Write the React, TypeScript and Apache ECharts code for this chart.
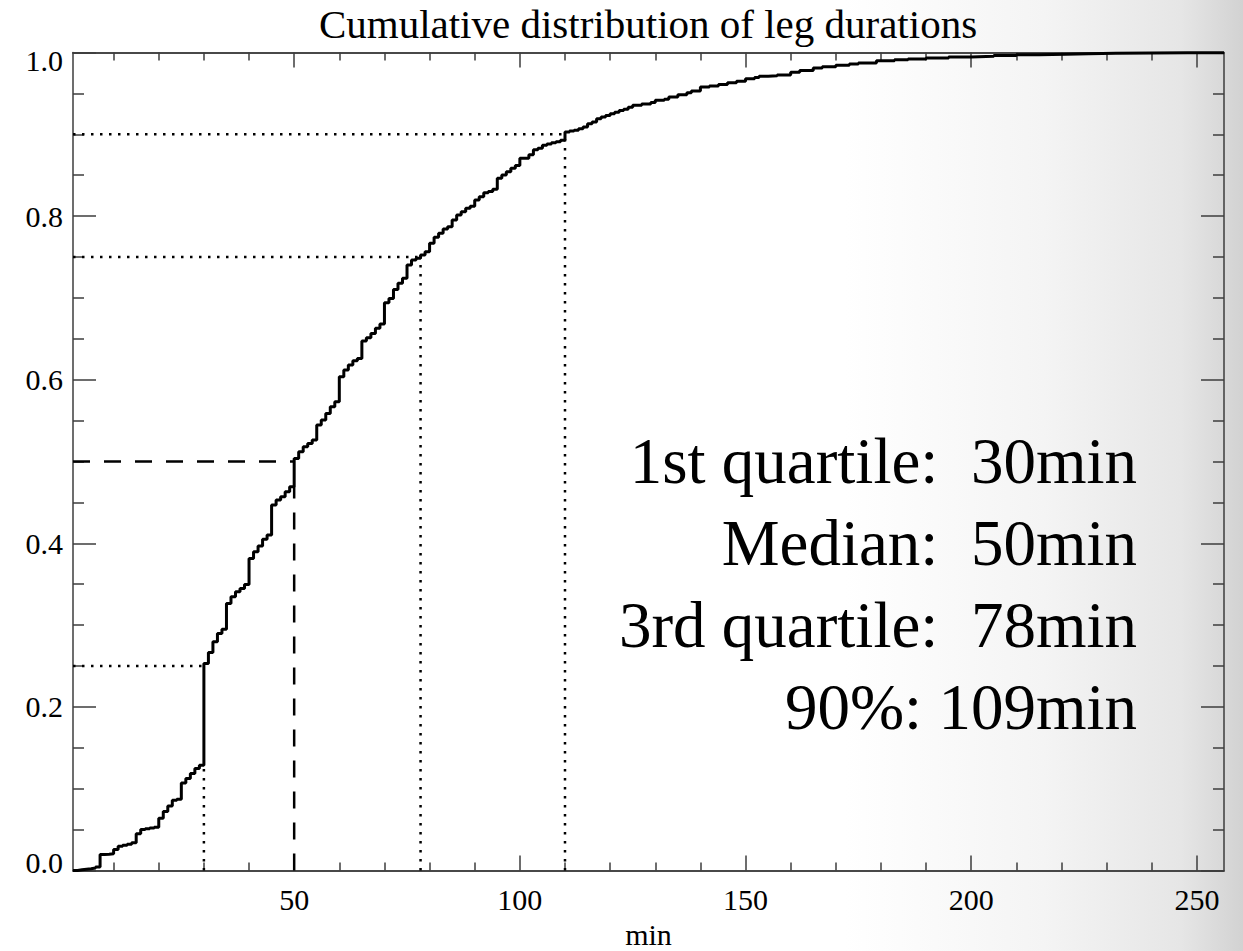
import React, { useEffect, useRef } from "react";
import * as echarts from "echarts";

// ---- data ----
const cdfMinutes = [
  1, 2, 3, 4, 5, 6, 7, 8, 9, 10, 11, 12, 13, 14, 15, 16, 17, 18, 19, 20,
  21, 22, 23, 24, 25, 26, 27, 28, 29, 30, 31, 32, 33, 34, 35, 36, 37, 38, 39, 40,
  41, 42, 43, 44, 45, 46, 47, 48, 49, 50, 51, 52, 53, 54, 55, 56, 57, 58, 59, 60,
  61, 62, 63, 64, 65, 66, 67, 68, 69, 70, 71, 72, 73, 74, 75, 76, 77, 78, 79, 80,
  81, 82, 83, 84, 85, 86, 87, 88, 89, 90, 91, 92, 93, 94, 95, 96, 97, 98, 99, 100,
  102, 103, 104, 105, 106, 107, 108, 109, 110, 111, 112, 113, 114, 115, 116, 117, 118, 119, 120,
  121, 122, 123, 124, 125, 127, 129, 130, 132, 133, 135, 137, 138, 140, 142, 144, 146, 148, 150,
  152, 153, 155, 157, 160, 162, 165, 167, 170, 173, 175, 179, 183, 186, 190, 195, 200,
  205, 210, 215, 221, 226, 232, 240, 248, 256,
];
const cdfFraction = [
  0, 0.0008, 0.0015, 0.0022, 0.003, 0.0044, 0.0196, 0.02, 0.0205, 0.0257, 0.0297, 0.031, 0.032, 0.034, 0.045, 0.05, 0.051, 0.052, 0.053, 0.064,
  0.072, 0.079, 0.086, 0.087, 0.107, 0.1125, 0.1186, 0.1247, 0.1288, 0.2531, 0.2666, 0.2795, 0.2898, 0.295, 0.3265, 0.3346, 0.3407, 0.3448, 0.3497, 0.3815,
  0.3896, 0.3966, 0.4051, 0.41, 0.4467, 0.4528, 0.4568, 0.463, 0.469, 0.5038, 0.512, 0.518, 0.5221, 0.5262, 0.5445, 0.5506, 0.5588, 0.5669, 0.573, 0.6036,
  0.6118, 0.6179, 0.6231, 0.626, 0.6472, 0.6513, 0.6566, 0.6628, 0.668, 0.694, 0.6994, 0.7104, 0.7178, 0.7239, 0.7402, 0.7463, 0.7485, 0.7525, 0.7564, 0.7667,
  0.774, 0.7789, 0.7842, 0.787, 0.7952, 0.8013, 0.8053, 0.8095, 0.812, 0.8197, 0.8237, 0.8286, 0.83, 0.8327, 0.8462, 0.8502, 0.8542, 0.8584, 0.862, 0.8706,
  0.875, 0.881, 0.883, 0.8865, 0.888, 0.8897, 0.891, 0.8926, 0.9028, 0.904, 0.905, 0.9068, 0.909, 0.913, 0.915, 0.919, 0.921, 0.923, 0.9252,
  0.927, 0.929, 0.9306, 0.933, 0.9354, 0.937, 0.939, 0.9415, 0.943, 0.9456, 0.9484, 0.9508, 0.953, 0.9578, 0.959, 0.961, 0.963, 0.965, 0.968,
  0.9695, 0.9709, 0.9715, 0.9725, 0.9758, 0.978, 0.981, 0.9825, 0.9843, 0.986, 0.9871, 0.99, 0.991, 0.992, 0.9933, 0.9945, 0.9953,
  0.9963, 0.9973, 0.998, 0.9985, 0.999, 0.9993, 0.9996, 0.9998, 1.0,
];

const quantileMinutes = [30, 50, 78, 110];
const quantileLevels = [0.25, 0.5, 0.75, 0.9];
const quantileFoot = [0.129, 0.469, 0.75, 0.9];
const quantileDashed = [false, true, false, false];
const quantileLabels = [
  "1st quartile:  30min",
  "Median:  50min",
  "3rd quartile:  78min",
  "90%: 109min",
];

const xMajorTicks = [50, 100, 150, 200, 250];
const xMinorTicks = [10, 20, 30, 40, 60, 70, 80, 90, 110, 120, 130, 140, 160, 170, 180, 190, 210, 220, 230, 240];
const X_MIN = 1;
const X_MAX = 256;

const TITLE = "Cumulative distribution of leg durations";
const X_NAME = "min";

const FONT = "'Liberation Serif', 'Times New Roman', serif";
const AXIS_COLOR = "#3c3c3c";

export default function App() {
  const ref = useRef<HTMLDivElement>(null);

  useEffect(() => {
    if (!ref.current) return;
    const chart = echarts.init(ref.current, undefined, { renderer: "svg" });

    const axisLineStyle = { color: AXIS_COLOR, width: 1.5 };
    const mkX = (position: "top" | "bottom", major: boolean, labels: boolean, name?: string) => ({
      type: "value",
      position,
      min: X_MIN,
      max: X_MAX,
      name,
      nameLocation: "middle",
      nameGap: 40,
      nameTextStyle: { fontFamily: FONT, fontSize: 30, color: "#000" },
      axisLine: { show: true, onZero: false, lineStyle: axisLineStyle },
      axisTick: {
        show: true,
        inside: true,
        length: major ? 15 : 8,
        customValues: major ? xMajorTicks : xMinorTicks,
        lineStyle: axisLineStyle,
      },
      axisLabel: labels
        ? { show: true, customValues: xMajorTicks, margin: 14, fontFamily: FONT, fontSize: 30, color: "#000" }
        : { show: false },
      splitLine: { show: false },
    });

    const mkY = (position: "left" | "right", labels: boolean) => ({
      type: "value",
      position,
      min: 0,
      max: 1,
      interval: 0.2,
      axisLine: { show: true, onZero: false, lineStyle: axisLineStyle },
      axisTick: { show: true, inside: true, length: 23, lineStyle: axisLineStyle },
      minorTick: { show: true, splitNumber: 4, length: 11, lineStyle: axisLineStyle },
      axisLabel: labels
        ? {
            show: true,
            margin: 10,
            fontFamily: FONT,
            fontSize: 30,
            lineHeight: 16,
            color: "#000",
            formatter: (v: number) => v.toFixed(1),
            verticalAlignMinLabel: "bottom",
            verticalAlignMaxLabel: "top",
          }
        : { show: false },
      splitLine: { show: false },
      minorSplitLine: { show: false },
    });

    const guideSeries: any[] = [];
    quantileMinutes.forEach((q, i) => {
      const lineStyle = {
        color: "#000",
        width: 2.5,
        type: quantileDashed[i] ? [17, 14] : [2.5, 6.5],
      };
      guideSeries.push({
        type: "line",
        xAxisIndex: 0,
        yAxisIndex: 0,
        data: [
          [X_MIN, quantileLevels[i]],
          [q, quantileLevels[i]],
        ],
        showSymbol: false,
        symbol: "none",
        lineStyle,
        silent: true,
      });
      guideSeries.push({
        type: "line",
        xAxisIndex: 0,
        yAxisIndex: 0,
        data: [
          [q, 0],
          [q, quantileFoot[i]],
        ],
        showSymbol: false,
        symbol: "none",
        lineStyle,
        silent: true,
      });
    });

    const option: any = {
      animation: false,
      backgroundColor: "transparent",
      title: {
        text: TITLE,
        left: 648,
        top: 3,
        textAlign: "center",
        padding: 0,
        textStyle: { fontFamily: FONT, fontSize: 41, fontWeight: "normal", color: "#000" },
      },
      grid: {
        left: 73,
        top: 52.5,
        width: 1151,
        height: 818,
        containLabel: false,
        outerBoundsMode: "none",
      },
      xAxis: [
        mkX("bottom", true, true, X_NAME),
        mkX("bottom", false, false),
        mkX("top", true, false),
        mkX("top", false, false),
      ],
      yAxis: [mkY("left", true), mkY("right", false)],
      series: [
        {
          type: "line",
          name: "CDF",
          xAxisIndex: 0,
          yAxisIndex: 0,
          step: "end",
          data: cdfMinutes.map((m, i) => [m, cdfFraction[i]]),
          showSymbol: false,
          symbol: "none",
          lineStyle: { color: "#000", width: 3 },
          z: 5,
        },
        ...guideSeries,
      ],
      graphic: quantileLabels.map((t, i) => ({
        type: "text",
        right: 1243 - 1137,
        top: 462 + i * 82.3 - 34,
        style: {
          text: t,
          fontFamily: FONT,
          fontSize: 65,
          fill: "#000",
        },
      })),
    };

    chart.setOption(option);
    return () => chart.dispose();
  }, []);

  return (
    <div
      style={{
        position: "fixed",
        left: 0,
        top: 0,
        width: 1243,
        height: 951,
        background:
          "linear-gradient(to right, #ffffff 0%, #ffffff 68%, #f4f4f4 84%, #e6e6e6 95%, #d2d2d2 100%)",
      }}
    >
      <div ref={ref} style={{ width: 1243, height: 951 }} />
    </div>
  );
}
